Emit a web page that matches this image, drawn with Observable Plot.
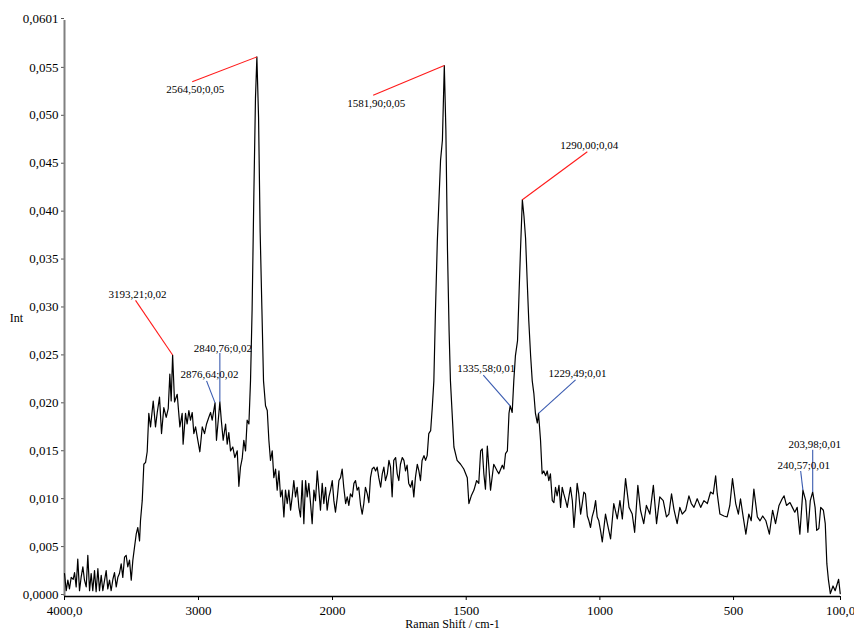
<!DOCTYPE html>
<html><head><meta charset="utf-8">
<script src="https://cdn.jsdelivr.net/npm/d3@7"></script>
<script src="https://cdn.jsdelivr.net/npm/@observablehq/plot@0.6"></script>
<style>
html,body{margin:0;padding:0;background:#fff;}
#chart{position:relative;width:854px;height:631px;overflow:hidden;}
#chart svg, #chart svg text{font-family:'Liberation Serif','Times New Roman',serif !important;}
</style></head><body><div id="chart"></div>
<script>
// Raman spectrum: wavenumber (cm-1) and intensity
const wavenumbers = [
4000,3987,3975,3963,3950,3935,3925,3913,3901,3888,3876,3863,3851,3838,3826,3813,3801,3789,3776,3764,
3751,3739,3726,3714,3701,3689,3677,3664,3652,3639,3627,3614,3602,3590,3577,3565,3552,3540,3528,3515,
3502,3490,3478,3465,3453,3440,3433,3420,3408,3395,3383,3371,3358,3338,3321,3308,3291,3276,3259,3241,
3226,3214,3204,3193.21,3179,3159,3139,3122,3115,3097,3085,3072,3060,3047,3035,3022,3005,2990,2972,2955,
2940,2923,2910,2898,2876.64,2866,2840.76,2830,2816,2798,2786,2774,2761,2744,2729,2711,2699,2687,2674,2662,
2649,2637,2624,2612,2600,2587,2575,2564.50,2552,2540,2527,2515,2500,2487,2475,2463,2450,2438,2425,2413,
2400,2388,2376,2363,2351,2338,2326,2313,2301,2289,2276,2264,2251,2239,2226,2214,2201,2189,2177,2164,
2152,2139,2127,2114,2102,2090,2077,2065,2052,2040,2027,2015,2002,1995,1989,1982,1976,1970,1964,1958,
1951,1945,1939,1933,1926,1920,1914,1908,1902,1895,1889,1883,1877,1870,1864,1858,1852,1845,1839,1833,
1827,1820,1814,1808,1802,1795,1789,1783,1777,1771,1764,1758,1752,1746,1739,1733,1727,1721,1715,1708,
1702,1696,1690,1683,1677,1671,1665,1658,1652,1646,1640,1633,1627,1621,1615,1608,1602,1596,1589,1581.90,
1576,1570,1564,1559,1546,1534,1521,1509,1496,1490,1481,1471,1461,1453,1446,1440,1434,1428,1421,1409,
1397,1384,1378,1365,1359,1353,1346,1340,1335.58,1328,1322,1316,1308,1302,1297,1290.00,1284,1278,1272,1266,
1259,1253,1247,1241,1234,1229.49,1222,1216,1210,1203,1197,1191,1185,1178,1172,1166,1160,1153,1147,1141,
1135,1128,1122,1116,1110,1103,1097,1091,1085,1079,1072,1066,1060,1054,1047,1041,1035,1029,1022,1016,
1010,1004,997,991,979,972,960,948,935,925,916,904,891,879,870,858,848,836,826,813,
800,788,776,763,751,742,732,723,711,701,692,679,667,658,648,636,623,611,598,586,
576,567,561,551,536,524,514,504,492,482,474,464,454,443,434,424,411,401,391,379,
366,354,343,330,318,311,302,289,280,271,262,252,240.57,230,222,213,203.98,195,189,181,
174,164,157,151,145,138,128,120,107,101
];
const intensities = [
.0024,.0006,.0017,.0008,.0020,.0018,.0025,.0010,.0039,.0006,.0020,.0031,.0017,.0010,.0043,.0006,.0024,.0006,.0027,.0005,
.0029,.0006,.0022,.0006,.0017,.0027,.0008,.0017,.0006,.0018,.0025,.0010,.0020,.0024,.0034,.0020,.0041,.0043,.0031,.0038,
.0017,.0038,.0051,.0065,.0072,.0058,.0079,.0100,.0138,.0140,.0151,.0191,.0177,.0204,.0177,.0192,.0208,.0170,.0197,.0187,
.0196,.0232,.0204,.0252,.0203,.0211,.0177,.0191,.0159,.0191,.0180,.0194,.0184,.0192,.0170,.0177,.0163,.0151,.0177,.0170,
.0180,.0187,.0192,.0184,.0202,.0163,.0203,.0184,.0163,.0180,.0159,.0171,.0152,.0156,.0145,.0152,.0115,.0135,.0144,.0163,
.0152,.0184,.0180,.0225,.0300,.0420,.0520,.0563,.0500,.0380,.0300,.0225,.0199,.0194,.0163,.0142,.0152,.0124,.0133,.0111,
.0131,.0104,.0111,.0083,.0111,.0097,.0111,.0090,.0104,.0121,.0104,.0114,.0093,.0083,.0121,.0076,.0121,.0104,.0118,.0097,
.0076,.0111,.0100,.0131,.0111,.0090,.0118,.0097,.0114,.0090,.0104,.0111,.0121,.0100,.0088,.0104,.0121,.0124,.0133,.0114,
.0097,.0104,.0095,.0107,.0104,.0118,.0121,.0111,.0114,.0095,.0086,.0097,.0114,.0107,.0098,.0124,.0133,.0135,.0131,.0135,
.0124,.0114,.0128,.0135,.0121,.0128,.0142,.0135,.0104,.0142,.0145,.0128,.0121,.0138,.0145,.0142,.0131,.0137,.0118,.0114,
.0121,.0104,.0124,.0138,.0131,.0121,.0142,.0147,.0142,.0147,.0170,.0173,.0197,.0225,.0298,.0371,.0413,.0455,.0476,.0554,
.0486,.0361,.0277,.0225,.0156,.0142,.0138,.0133,.0124,.0097,.0105,.0111,.0121,.0118,.0152,.0154,.0128,.0112,.0157,.0111,
.0138,.0131,.0128,.0137,.0133,.0149,.0152,.0191,.0199,.0192,.0225,.0251,.0267,.0319,.0361,.0414,.0397,.0374,.0330,.0288,
.0251,.0225,.0212,.0191,.0181,.0191,.0163,.0128,.0131,.0126,.0131,.0121,.0128,.0100,.0098,.0114,.0105,.0116,.0093,.0114,
.0107,.0100,.0093,.0104,.0114,.0100,.0072,.0093,.0118,.0107,.0086,.0097,.0109,.0107,.0084,.0079,.0072,.0083,.0090,.0100,
.0083,.0079,.0068,.0057,.0086,.0076,.0060,.0097,.0081,.0100,.0081,.0123,.0093,.0086,.0067,.0116,.0090,.0076,.0095,.0086,
.0116,.0076,.0104,.0100,.0083,.0086,.0107,.0091,.0076,.0093,.0086,.0090,.0105,.0097,.0093,.0102,.0093,.0100,.0097,.0109,
.0107,.0126,.0107,.0086,.0084,.0083,.0095,.0123,.0097,.0086,.0102,.0083,.0065,.0086,.0079,.0112,.0083,.0079,.0084,.0079,
.0065,.0090,.0076,.0095,.0102,.0105,.0095,.0098,.0093,.0088,.0093,.0065,.0111,.0100,.0067,.0100,.0109,.0093,.0069,.0071,
.0093,.0090,.0076,.0034,.0017,.0003,.0011,.0006,.0018,.0003
];

// Peak annotations
const peakWavenumbers = [3193.21, 2564.50, 1581.90, 1290.00, 2876.64, 2840.76, 1335.58, 1229.49, 240.57, 203.98];
const peakLabels = ["3193,21;0,02","2564,50;0,05","1581,90;0,05","1290,00;0,04","2876,64;0,02","2840,76;0,02","1335,58;0,01","1229,49;0,01","240,57;0,01","203,98;0,01"];
const peakKinds = ["main","main","main","main","minor","minor","minor","minor","minor","minor"];

// Axis ticks
const xTicks = [4000, 3000, 2000, 1500, 1000, 500, 100];
const yTicks = [0, 0.005, 0.010, 0.015, 0.020, 0.025, 0.030, 0.035, 0.040, 0.045, 0.050, 0.055, 0.0601];

// Layout: where each callout's leader ends (data space), and the label offset (px)
const calloutEnds = [[3470,0.0309],[3047,0.0537],[1848,0.0523],[1047,0.0464],[2940,0.0225],[2840.76,0.0254],[1436,0.0231],[1091,0.0226],[249,0.0131],[203.98,0.0153]];
const calloutOffsets = [[2,-6],[3,8],[3,8],[2,-6],[3,-6],[3,-5],[3,-7],[2,-6],[3,-5],[2,-5]];

const W = 854, H = 631, ML = 64, MR = 14, MT = 20, MB = 35;
const split = ML + (W - ML - MR) * 0.3454;
const serif = "'Liberation Serif', 'Times New Roman', serif";

const spectrum = wavenumbers.map((w, i) => ({w, v: intensities[i]}));
const callouts = peakWavenumbers.map((w, i) => ({
  w, v: intensities[wavenumbers.indexOf(w)], label: peakLabels[i], kind: peakKinds[i],
  w2: calloutEnds[i][0], v2: calloutEnds[i][1], dx: calloutOffsets[i][0], dy: calloutOffsets[i][1]
}));

const fmtY = d => d === 0 ? "0,0000" : d === 0.0601 ? "0,0601" : d.toFixed(3).replace(".", ",");
const fmtX = d => (d === 4000 || d === 100) ? d.toFixed(1).replace(".", ",") : String(d);

const textMarks = callouts.map(c => Plot.text([c], {x: "w2", y: "v2", text: "label", dx: c.dx, dy: c.dy, fontSize: 11, fontFamily: serif, fill: "#000", textAnchor: "middle"}));

const chart = Plot.plot({
  width: W, height: H,
  marginLeft: ML, marginRight: MR, marginTop: MT, marginBottom: MB,
  style: {fontFamily: serif, fontSize: "13px", background: "#fff", color: "#000", overflow: "visible"},
  x: {type: "linear", domain: [4000, 2000, 100], range: [ML, split, W - MR]},
  y: {domain: [0, 0.0601]},
  marks: [
    Plot.axisX({ticks: xTicks, tickFormat: fmtX, tickSize: 4, tickPadding: 5, label: null, fontSize: 13, fontFamily: serif, stroke: "#000"}),
    Plot.axisY({ticks: yTicks, tickFormat: fmtY, tickSize: 3, tickPadding: 3, label: null, fontSize: 13, fontFamily: serif, stroke: "#555", dy: -2}),
    Plot.ruleX([4000], {stroke: "#808080", strokeWidth: 2}),
    Plot.ruleY([0], {stroke: "#000", strokeWidth: 1.5}),
    Plot.text(["Raman Shift / cm-1"], {frameAnchor: "bottom", dy: 31.5, fontSize: 12, fontFamily: serif, fill: "#000"}),
    Plot.text(["Int"], {frameAnchor: "left", dx: -48, dy: 10, fontSize: 12, fontFamily: serif, fill: "#000", textAnchor: "middle"}),
    Plot.line(spectrum, {x: "w", y: "v", stroke: "#000", strokeWidth: 1.2}),
    Plot.link(callouts.filter(c => c.kind === "main"), {x1: "w", y1: "v", x2: "w2", y2: "v2", stroke: "#ff1a1a", strokeWidth: 1.1}),
    Plot.link(callouts.filter(c => c.kind === "minor"), {x1: "w", y1: "v", x2: "w2", y2: "v2", stroke: "#3a5bb0", strokeWidth: 1.1}),
    ...textMarks
  ]
});
document.getElementById("chart").appendChild(chart);
</script>
</body></html>
